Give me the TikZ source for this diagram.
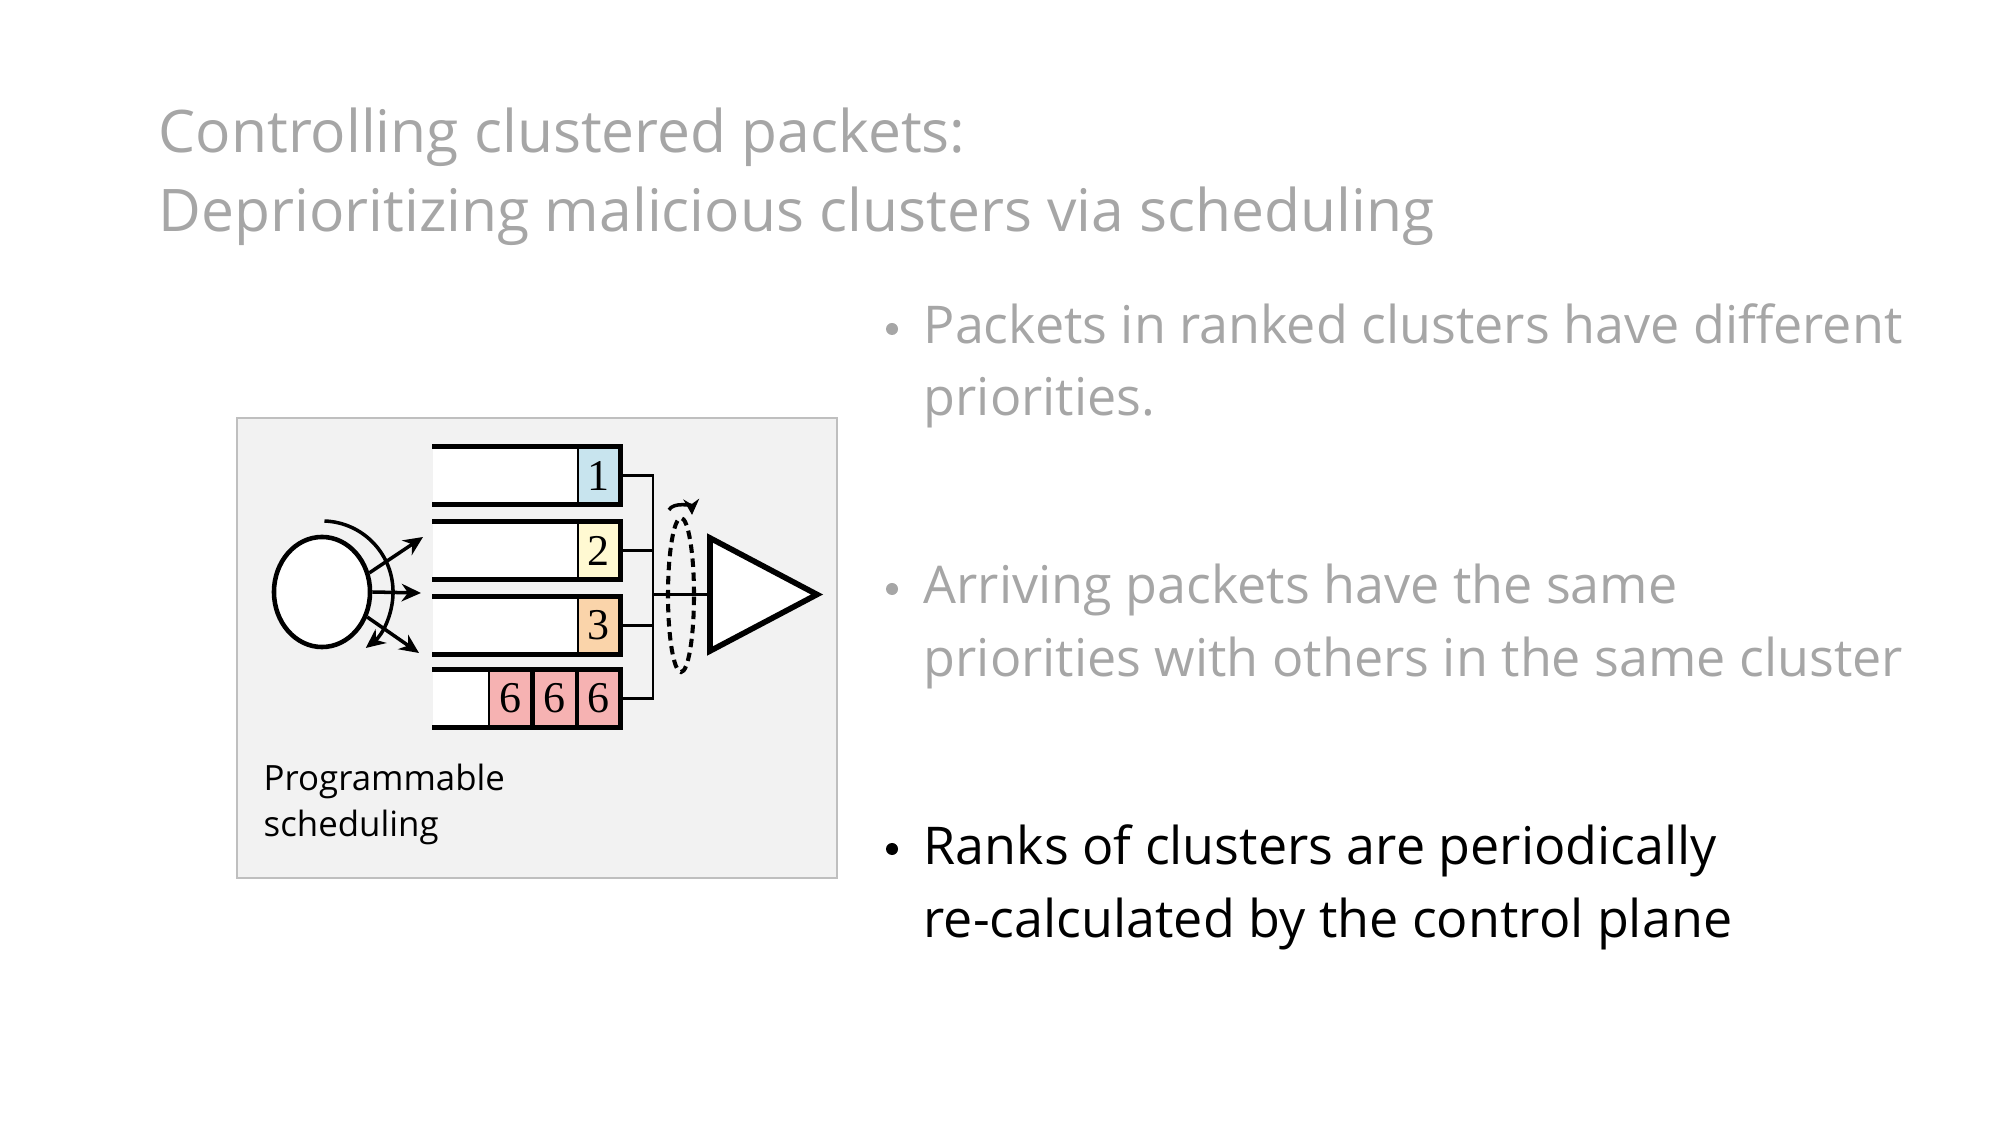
\documentclass[tikz,border=0pt]{standalone}
\usepackage{fontspec}
\setmainfont{Open Sans}
\newfontfamily\rankfont{Liberation Serif}
\usetikzlibrary{arrows.meta,shapes.geometric}
\definecolor{slidegray}{HTML}{A6A6A6}
\definecolor{panelgray}{HTML}{F2F2F2}
\definecolor{panelline}{HTML}{BFBFBF}
\definecolor{rankone}{RGB}{200,228,238}
\definecolor{ranktwo}{RGB}{255,249,210}
\definecolor{rankthree}{RGB}{250,212,170}
\definecolor{ranksix}{RGB}{246,178,178}
\begin{document}
\begin{tikzpicture}[x=0.01cm,y=-0.01cm,
    headline/.style={anchor=base west,inner sep=0,align=left,text=slidegray,
      font=\fontsize{16.7}{22.5}\selectfont},
    bullettext/.style={anchor=base west,inner sep=0,align=left,
      font=\fontsize{14.8}{20.5}\selectfont},
    bulletdot/.style={circle,inner sep=0,minimum size=0.12cm},
    queue/.style={rectangle,fill=white,inner sep=0,minimum width=1.87cm,minimum height=0.57cm},
    cell/.style={rectangle,draw,line width=0.6pt,inner sep=0,anchor=east,
      minimum width=0.42cm,minimum height=0.57cm,font=\rankfont\fontsize{12.5}{14}\selectfont},
    rim/.style={line width=1.45pt},
    wire/.style={line width=0.6pt},
    feed/.style={line width=1pt,-{Stealth[length=5.5pt,width=5pt]}}]
  \useasboundingbox (0,0) rectangle (2000,1125);

  % slide text (base = last line)
  \node[headline] (head) at (158,232) {Controlling clustered packets:\\Deprioritizing malicious clusters via scheduling};
  \node[bullettext,text=slidegray] (p1) at (923,416) {Packets in ranked clusters have different\\priorities.};
  \node[bullettext,text=slidegray] (p2) at (923,676) {Arriving packets have the same\\priorities with others in the same cluster};
  \node[bullettext] (p3) at (923,937) {Ranks of clusters are periodically\\re-calculated by the control plane};
  \node[bulletdot,fill=slidegray] (d1) at (892,329) {};
  \node[bulletdot,fill=slidegray] (d2) at (892,589) {};
  \node[bulletdot,fill=black] (d3) at (892,849) {};

  % scheduler panel
  \node[draw=panelline,fill=panelgray,line width=0.5pt,inner sep=0,
    minimum width=6cm,minimum height=4.6cm] (panel) at (537,648) {};
  \node[anchor=base west,inner sep=0,align=left,font=\fontsize{9.9}{12.8}\selectfont]
    (lbl) at (263,836) {Programmable\\scheduling};

  \node[queue] (q1) at (526.5,475.5) {};
  \node[queue] (q2) at (526.5,550.5) {};
  \node[queue] (q3) at (526.5,625.5) {};
  \node[queue] (q4) at (526.5,698.5) {};
  \node[cell,fill=rankone] (c1) at (q1.east) {1};
  \node[cell,fill=ranktwo] (c2) at (q2.east) {2};
  \node[cell,fill=rankthree] (c3) at (q3.east) {3};
  \node[cell,fill=ranksix] (c4) at (q4.east) {6};
  \node[cell,fill=ranksix] (c5) at (c4.west) {6};
  \node[cell,fill=ranksix] (c6) at (c5.west) {6};
  \draw[rim] (q1.north west) -- (q1.north east) -- (q1.south east) -- (q1.south west);
  \draw[rim] (q2.north west) -- (q2.north east) -- (q2.south east) -- (q2.south west);
  \draw[rim] (q3.north west) -- (q3.north east) -- (q3.south east) -- (q3.south west);
  \draw[rim] (q4.north west) -- (q4.north east) -- (q4.south east) -- (q4.south west);

  \coordinate (hub) at (653,594.5);
  \draw[wire] (q1.east) -| (hub);
  \draw[wire] (q2.east) -| (hub);
  \draw[wire] (q3.east) -| (hub);
  \draw[wire] (q4.east) -| (hub);
  \coordinate (mux) at (710,594.5);
  \draw[wire] (hub) -- (mux);
  \draw[line width=1.6pt,fill=white,line join=miter] (mux) -- (710,538) -- (817,594.5) -- (710,651) -- cycle;

  % round robin
  \node[draw,ellipse,line width=1.15pt,dash pattern=on 2.4pt off 1.6pt,inner sep=0,
    minimum width=0.26cm,minimum height=1.54cm] (rr) at (681,595) {};
  \draw[line width=1pt,-{Stealth[length=4.5pt,width=4.5pt]}]
    ([xshift=-0.12cm,yshift=0.06cm]rr.north) to[bend left=75] ([xshift=0.11cm,yshift=0.01cm]rr.north);

  % packet source
  \node[draw,ellipse,line width=1.3pt,fill=white,inner sep=0,
    minimum width=0.96cm,minimum height=1.1cm] (src) at (322,592) {};
  \draw[line width=1pt,-{Stealth[length=5.5pt,width=5pt]}]
    ([shift={(88:0.71cm)}]src.center) arc[start angle=88,end angle=-52,radius=0.71cm];
  \coordinate (in1) at (423,537);
  \coordinate (in2) at (421,593);
  \coordinate (in3) at (419,653);
  \draw[feed] (src.22) -- (in1);
  \draw[feed] (src.east) -- (in2);
  \draw[feed] (src.-29) -- (in3);
\end{tikzpicture}
\end{document}
